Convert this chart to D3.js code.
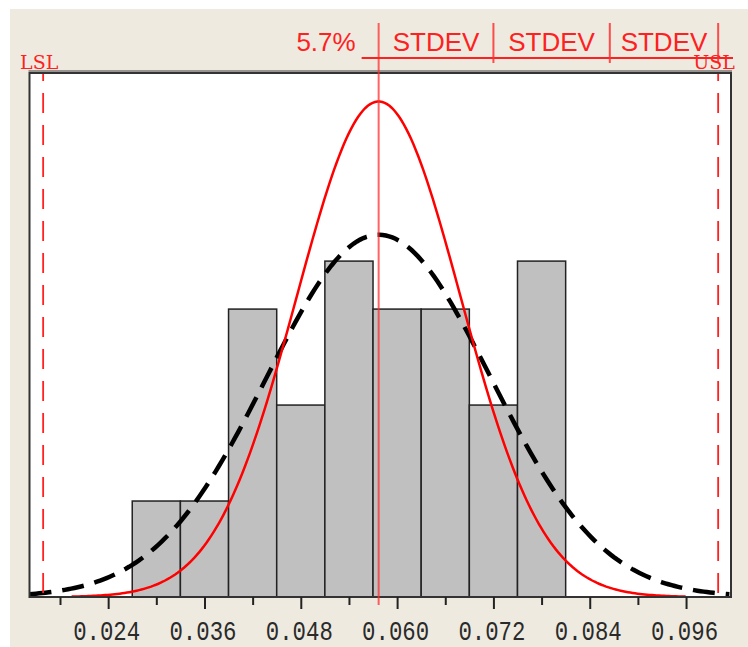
<!DOCTYPE html>
<html>
<head>
<meta charset="utf-8">
<script src="https://cdn.jsdelivr.net/npm/d3@7"></script>
<style>
  body { margin: 0; background: #fff; }
</style>
</head>
<body>
<div id="chart"></div>
<script>
// histogram data
const binEdges = [0.027, 0.033, 0.039, 0.045, 0.051, 0.057, 0.063, 0.069, 0.075, 0.081];
const counts = [2, 2, 6, 4, 7, 6, 6, 4, 7];
const majorTicks = [0.024, 0.036, 0.048, 0.060, 0.072, 0.084, 0.096];
const minorTicks = [0.018, 0.030, 0.042, 0.054, 0.066, 0.078, 0.090];

// process stats
const mean = 0.0577;
const sigmaOverall = 0.01395;
const sigmaWithin = 0.0102;
const LSL = 0.0159;
const USL = 0.1000;
const stdevMarks = [0.0577, 0.0720, 0.0865, 0.1000];
const stdevLabels = ["STDEV", "STDEV", "STDEV"];
const meanLabel = "5.7%";

const width = 748, height = 647;
const margin = {top: 73, right: 17, bottom: 50, left: 29.5};
const chartWidth = width - margin.left - margin.right;
const chartHeight = height - margin.top - margin.bottom;

const root = d3.select("#chart")
  .append("svg")
    .attr("width", width)
    .attr("height", height);

// beige panel
root.append("rect")
  .attr("x", 10).attr("y", 9)
  .attr("width", width - 10).attr("height", height - 9)
  .attr("fill", "#eeeae0");

const svg = root.append("g")
  .attr("transform", `translate(${margin.left},${margin.top})`);

const x = d3.scaleLinear()
  .domain([0.0142, 0.1016])
  .range([0, chartWidth]);

const N = d3.sum(counts);
const binW = binEdges[1] - binEdges[0];

const y = d3.scaleLinear()
  .domain([0, 10.92])
  .range([chartHeight, 0]);

// plot area
svg.append("rect")
  .attr("width", chartWidth)
  .attr("height", chartHeight)
  .attr("fill", "#fff");

// bars
svg.selectAll("rect.bar")
  .data(counts)
  .enter()
  .append("rect")
    .attr("class", "bar")
    .attr("x", (d, i) => x(binEdges[i]))
    .attr("width", (d, i) => x(binEdges[i + 1]) - x(binEdges[i]))
    .attr("y", d => y(d))
    .attr("height", d => y(0) - y(d))
    .attr("fill", "#c0c0c0")
    .attr("stroke", "#222")
    .attr("stroke-width", 1.5);

// normal curves
function pdf(v, m, s) {
  return N * binW * Math.exp(-0.5 * ((v - m) / s) ** 2) / (s * Math.sqrt(2 * Math.PI));
}
const line = d3.line().x(d => x(d[0])).y(d => y(d[1]));

const overallPts = d3.range(x.domain()[0], x.domain()[1] + 1e-6, 0.0004)
  .map(v => [v, pdf(v, mean, sigmaOverall)]);
const withinPts = d3.range(mean - 3.75 * sigmaWithin, mean + 3.75 * sigmaWithin + 1e-6, 0.0003)
  .map(v => [v, pdf(v, mean, sigmaWithin)]);

svg.append("path")
  .datum(overallPts)
  .attr("d", line)
  .attr("fill", "none")
  .attr("stroke", "#000")
  .attr("stroke-width", 4.5)
  .attr("stroke-dasharray", "22,11");

svg.append("path")
  .datum(withinPts)
  .attr("d", line)
  .attr("fill", "none")
  .attr("stroke", "#ff0000")
  .attr("stroke-width", 2.5);

// spec limits
[LSL, USL].forEach(v => {
  svg.append("line")
    .attr("x1", x(v)).attr("x2", x(v))
    .attr("y1", 0).attr("y2", chartHeight)
    .attr("stroke", "#ff2020")
    .attr("stroke-width", 1.8)
    .attr("stroke-dasharray", "20,12")
    .attr("stroke-dashoffset", 12);
});

// frame
svg.append("line")
  .attr("x1", -1).attr("x2", chartWidth + 1)
  .attr("y1", -2).attr("y2", -2)
  .attr("stroke", "#777")
  .attr("stroke-width", 1.5);
svg.append("rect")
  .attr("width", chartWidth)
  .attr("height", chartHeight)
  .attr("fill", "none")
  .attr("stroke", "#333")
  .attr("stroke-width", 2);

// x axis
const axisMajor = svg.append("g")
  .attr("transform", `translate(0,${chartHeight})`)
  .call(d3.axisBottom(x).tickValues(majorTicks).tickSize(12).tickFormat(d3.format(".3f")));
axisMajor.select(".domain").remove();
axisMajor.selectAll("line").attr("stroke", "#222").attr("stroke-width", 2);
axisMajor.selectAll("text")
  .attr("y", 43).attr("dy", null)
  .attr("x", -2)
  .attr("fill", "#2a2a2a")
  .attr("font-size", 27)
  .style("font-family", "'Liberation Mono', 'DejaVu Sans Mono', monospace")
  .style("font-size", "27px")
  .attr("textLength", 67)
  .attr("lengthAdjust", "spacingAndGlyphs");

const axisMinor = svg.append("g")
  .attr("transform", `translate(0,${chartHeight})`)
  .call(d3.axisBottom(x).tickValues(minorTicks).tickSize(8).tickFormat(""));
axisMinor.select(".domain").remove();
axisMinor.selectAll("line").attr("stroke", "#222").attr("stroke-width", 2);

// mean line
svg.append("line")
  .attr("x1", x(mean)).attr("x2", x(mean))
  .attr("y1", -50).attr("y2", chartHeight + 8)
  .attr("stroke", "#ff3030")
  .attr("stroke-opacity", 0.75)
  .attr("stroke-width", 2);

// stdev ruler above the frame
svg.append("line")
  .attr("x1", x(mean) - 17).attr("x2", chartWidth + 2)
  .attr("y1", -15).attr("y2", -15)
  .attr("stroke", "#ff2020")
  .attr("stroke-width", 1.8);

svg.selectAll("line.mark")
  .data(stdevMarks.slice(1))
  .enter()
  .append("line")
    .attr("class", "mark")
    .attr("x1", d => x(d)).attr("x2", d => x(d))
    .attr("y1", -50).attr("y2", -10)
    .attr("stroke", "#ff3030")
    .attr("stroke-opacity", 0.85)
    .attr("stroke-width", 2);

svg.selectAll("text.stdev")
  .data(stdevLabels)
  .enter()
  .append("text")
    .attr("class", "stdev")
    .attr("x", (d, i) => (x(stdevMarks[i]) + x(stdevMarks[i + 1])) / 2)
    .attr("y", -22)
    .attr("text-anchor", "middle")
    .attr("fill", "#ff2020")
    .style("font-family", "'Liberation Sans', Arial, sans-serif")
    .style("font-size", "26px")
    .text(d => d);

svg.append("text")
  .attr("x", x(mean) - 23)
  .attr("y", -22)
  .attr("text-anchor", "end")
  .attr("fill", "#ff2020")
  .style("font-family", "'Liberation Sans', Arial, sans-serif")
  .style("font-size", "26px")
  .text(meanLabel);

// spec labels
svg.selectAll("text.spec")
  .data([["LSL", LSL, -4], ["USL", USL, -4]])
  .enter()
  .append("text")
    .attr("class", "spec")
    .attr("x", d => x(d[1]) + d[2])
    .attr("y", -4)
    .attr("text-anchor", "middle")
    .attr("fill", "#ff2020")
    .attr("font-size", 19)
    .style("font-family", "'DejaVu Serif', 'Liberation Serif', serif")
    .style("font-size", "19px")
    .text(d => d[0]);
</script>
</body>
</html>
